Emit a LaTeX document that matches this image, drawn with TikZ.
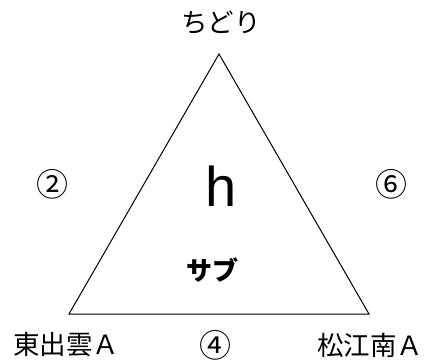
\documentclass[tikz,border=0pt]{standalone}
\usepackage{fontspec}
\setmainfont{Noto Sans CJK JP}
\newfontfamily\latin{Liberation Sans}
\begin{document}
\begin{tikzpicture}[x=1pt,y=-1pt,
  lab/.style={inner sep=0pt,font=\fontsize{26.5}{28}\selectfont},
  num/.style={inner sep=0pt,font=\fontsize{32}{34}\selectfont},
  edge/.style={line width=1pt,line join=miter}]
\useasboundingbox (0,0) rectangle (428,360);
\coordinate (top) at (219,54);
\coordinate (bl) at (69,314);
\coordinate (br) at (369,314);
\draw[edge] (top) -- (bl) -- (br) -- cycle;
\node[lab] (chidori) at (221,23) {ちどり};
\node[lab] (higashi) at (66,345) {東出雲Ａ};
\node[lab] (matsue) at (370,345) {松江南Ａ};
\node[num] (n4) at (215,345) {④};
\node[num] (n2) at (52,184) {②};
\node[num] (n6) at (391,184) {⑥};
\node[inner sep=0pt,font=\latin\fontsize{56}{60}\selectfont] (h) at (221,186) {h};
\node[inner sep=0pt,font=\bfseries\fontsize{26}{28}\selectfont] (sub) at (212,270) {サブ};
\end{tikzpicture}
\end{document}
